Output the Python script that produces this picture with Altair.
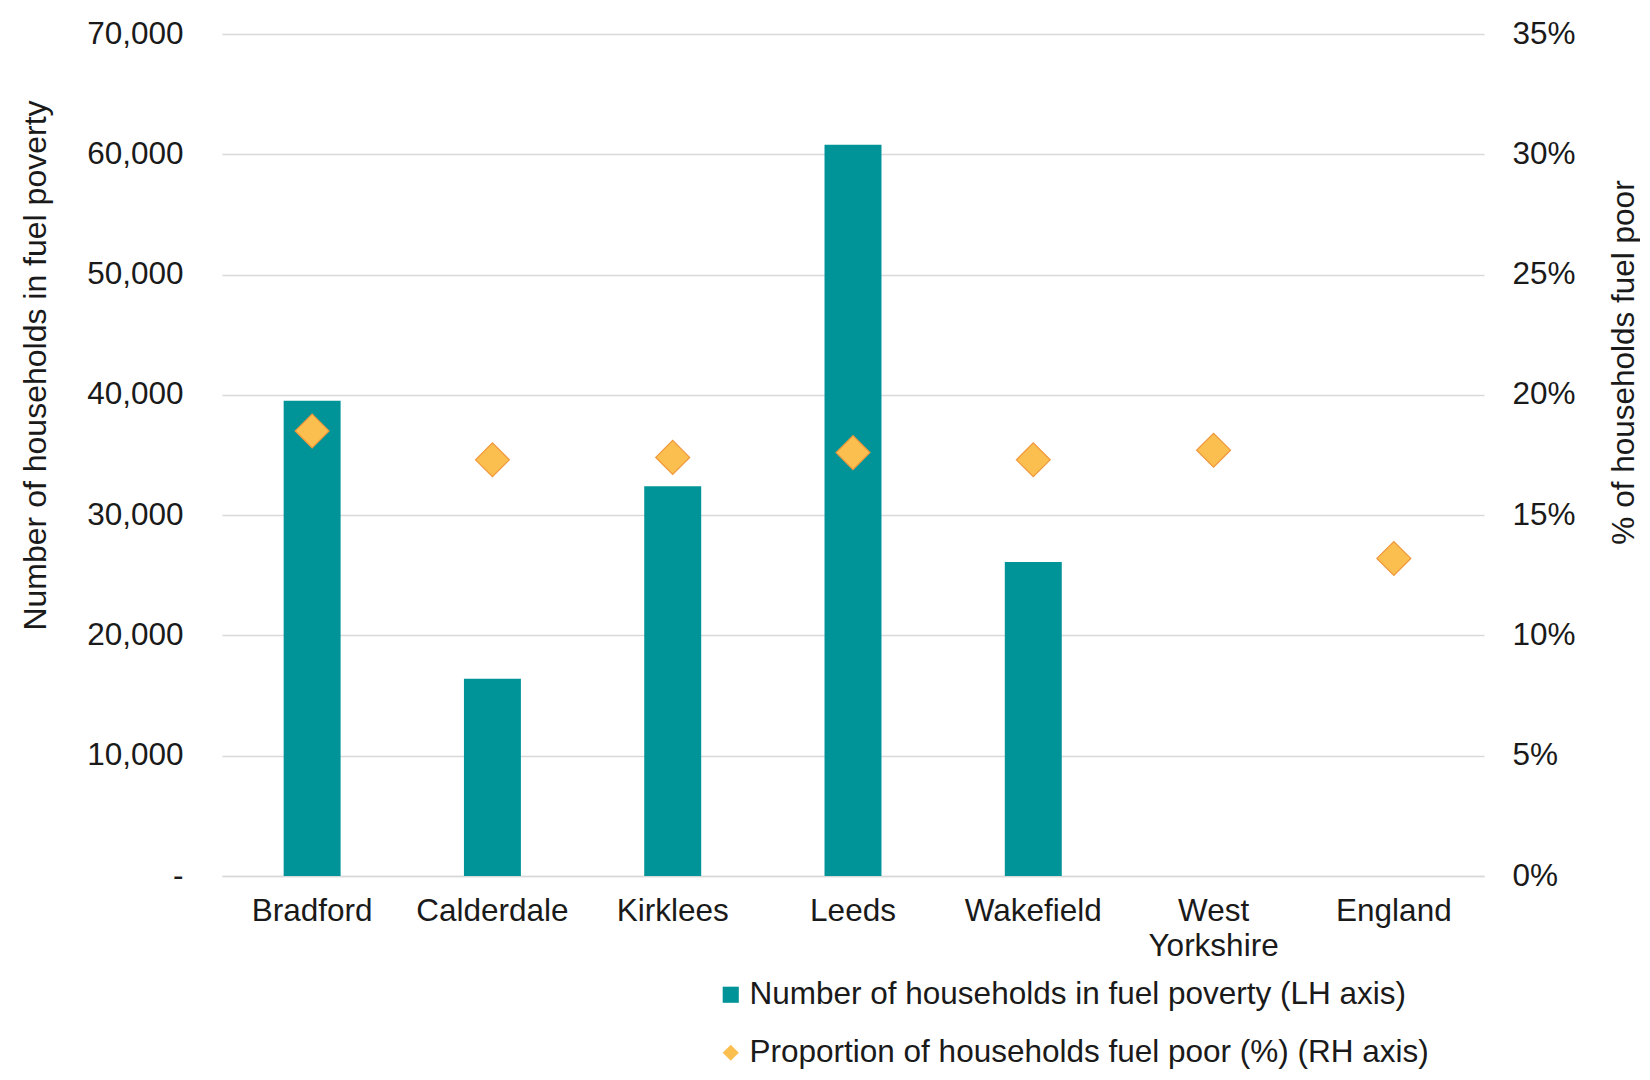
import altair as alt
import pandas as pd

areas = ["Bradford", "Calderdale", "Kirklees", "Leeds", "Wakefield", "West Yorkshire", "England"]
households = [39500, 16400, 32400, 60800, 26100, None, None]
proportion = [0.185, 0.173, 0.174, 0.176, 0.173, 0.177, 0.132]

bar_label = "Number of households in fuel poverty (LH axis)"
pt_label = "Proportion of households fuel poor (%) (RH axis)"

df = pd.DataFrame({"area": areas, "households": households, "proportion": proportion})
df["bar_series"] = bar_label
df["pt_series"] = pt_label

FONT = "Liberation Sans"
FS = 31.5
TXT = "#1a1a1a"
GRID = "#d9d9d9"
TEAL = "#009499"
GOLD = "#FBBF4F"

color_scale = alt.Scale(domain=[bar_label, pt_label], range=[TEAL, GOLD])
shape_scale = alt.Scale(domain=[bar_label, pt_label], range=["square", "diamond"])

x = alt.X(
    "area:N",
    sort=areas,
    title=None,
    scale=alt.Scale(paddingInner=0.684, paddingOuter=0.342),
    axis=alt.Axis(
        labelAngle=0,
        labelFont=FONT,
        labelFontSize=FS,
        labelColor=TXT,
        labelPadding=19,
        labelBaseline="top",
        labelLineHeight=35,
        labelExpr="datum.label == 'West Yorkshire' ? ['West', 'Yorkshire'] : datum.label",
        ticks=False,
        domain=True,
        domainColor=GRID,
        domainWidth=1.5,
        grid=False,
    ),
)

bars = alt.Chart(df).mark_bar().encode(
    x=x,
    y=alt.Y(
        "households:Q",
        scale=alt.Scale(domain=[0, 70000]),
        axis=alt.Axis(
            title="Number of households in fuel poverty",
            titleFont=FONT,
            titleFontSize=32,
            titleFontWeight="normal",
            titleColor=TXT,
            titleAngle=270,
            titleX=-187,
            titleY=331,
            titleAlign="center",
            titleBaseline="middle",
            values=[0, 10000, 20000, 30000, 40000, 50000, 60000, 70000],
            labelExpr="datum.value == 0 ? '-\u00a0\u00a0' : format(datum.value, ',')",
            labelFont=FONT,
            labelFontSize=FS,
            labelColor=TXT,
            labelPadding=39,
            ticks=False,
            domain=False,
            grid=True,
            gridColor=GRID,
            gridWidth=1.5,
        ),
    ),
    color=alt.Color("bar_series:N", scale=color_scale, title=None),
)

points = alt.Chart(df).mark_point(
    filled=True, size=1150, stroke="#F0963A", strokeWidth=1.2, opacity=1
).encode(
    x=x,
    y=alt.Y(
        "proportion:Q",
        scale=alt.Scale(domain=[0, 0.35]),
        axis=alt.Axis(
            title="% of households fuel poor",
            titleFont=FONT,
            titleFontSize=FS,
            titleFontWeight="normal",
            titleColor=TXT,
            titleAngle=270,
            titleX=140,
            titleY=328,
            titleAlign="center",
            titleBaseline="middle",
            values=[0, 0.05, 0.1, 0.15, 0.2, 0.25, 0.3, 0.35],
            format=".0%",
            labelFont=FONT,
            labelFontSize=FS,
            labelColor=TXT,
            labelPadding=28,
            ticks=False,
            domain=False,
            grid=False,
        ),
    ),
    color=alt.Color("pt_series:N", scale=color_scale, title=None),
    shape=alt.Shape("pt_series:N", scale=shape_scale, title=None),
)

chart = (
    alt.layer(bars, points)
    .resolve_scale(y="independent")
    .properties(
        width=1262,
        height=842,
        autosize=alt.AutoSizeParams(type="none"),
        padding={"left": 214, "top": 26, "right": 156, "bottom": 195},
    )
    .configure_view(stroke=None)
    .configure_legend(
        orient="none",
        legendX=493,
        legendY=945,
        direction="vertical",
        labelFont=FONT,
        labelFontSize=FS,
        labelColor=TXT,
        labelOffset=3,
        symbolSize=260,
        symbolStrokeWidth=0,
        rowPadding=25,
        padding=0,
        labelLimit=1000,
    )
)

chart.save("out.html", embed_options={"renderer": "svg", "actions": False})
